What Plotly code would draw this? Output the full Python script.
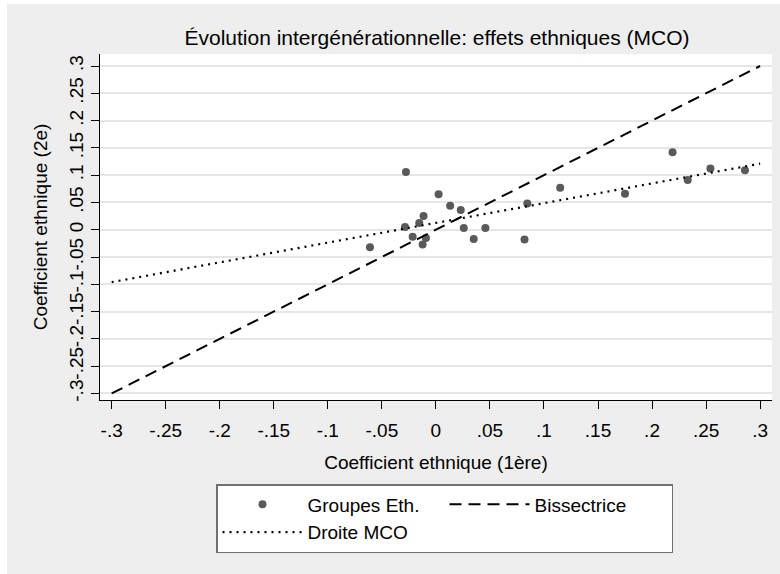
import plotly.graph_objects as go

# Data
grp_x = [-0.0277, 0.0025, 0.0132, 0.023, -0.0114, -0.0286, -0.0154, 0.0258, 0.0458,
         -0.0215, -0.0092, -0.0123, 0.035, 0.082, 0.0846, 0.115, -0.061, 0.175,
         0.219, 0.233, 0.254, 0.286]
grp_y = [0.106, 0.065, 0.044, 0.036, 0.025, 0.005, 0.0125, 0.003, 0.003,
         -0.013, -0.015, -0.027, -0.017, -0.018, 0.048, 0.077, -0.032, 0.066,
         0.142, 0.091, 0.112, 0.109]
bis_x = [-0.3, 0.3]
bis_y = [-0.3, 0.3]
ols_x = [-0.3, 0.3]
ols_y = [-0.096, 0.121]

tick_vals = [-0.3, -0.25, -0.2, -0.15, -0.1, -0.05, 0, 0.05, 0.1, 0.15, 0.2, 0.25, 0.3]
tick_text = ["-.3", "-.25", "-.2", "-.15", "-.1", "-.05", "0", ".05", ".1", ".15", ".2", ".25", ".3"]

W, H = 780, 574
ML, MR, MT, MB = 100, 8, 54, 174
pw, ph = W - ML - MR, H - MT - MB

font = "Liberation Sans, Arial, sans-serif"
FS = 19

fig = go.Figure()
fig.add_trace(go.Scatter(x=grp_x, y=grp_y, mode="markers", name="Groupes Eth.",
                         marker=dict(size=8, color="#5a5a5a"), cliponaxis=False))
fig.add_trace(go.Scatter(x=bis_x, y=bis_y, mode="lines", name="Bissectrice",
                         line=dict(color="black", width=2, dash="12px,7px")))
fig.add_trace(go.Scatter(x=ols_x, y=ols_y, mode="lines", name="Droite MCO",
                         line=dict(color="black", width=2.2, dash="2px,5px")))

def px_x(p):
    return (p - ML) / pw

def px_y(p):
    return 1 - (p - MT) / ph

fig.update_layout(
    width=W, height=H,
    margin=dict(l=ML, r=MR, t=MT, b=MB, pad=0),
    paper_bgcolor="#eeeeee",
    plot_bgcolor="white",
    font=dict(family=font, size=FS, color="black"),
    title=dict(text="Évolution intergénérationnelle: effets ethniques (MCO)",
               xref="container", x=437 / W, xanchor="center",
               yref="container", y=1 - 38 / H, yanchor="middle",
               font=dict(size=21, color="black")),
    xaxis=dict(range=[-0.3108, 0.311], tickvals=tick_vals, ticktext=tick_text,
               showgrid=False, zeroline=False, showline=True, linecolor="black",
               linewidth=1, ticks="outside", ticklen=8, tickcolor="black",
               ticklabelstandoff=5, tickfont=dict(size=FS),
               title=dict(text="Coefficient ethnique (1ère)", standoff=15,
                          font=dict(size=FS))),
    yaxis=dict(range=[-0.312, 0.322], tickvals=tick_vals, ticktext=tick_text,
               showgrid=True, gridcolor="#e6e6e6", gridwidth=1.5,
               zeroline=False, showline=True, linecolor="black", linewidth=1,
               ticks="outside", ticklen=8, tickcolor="black", tickangle=-90,
               tickfont=dict(size=FS),
               title=dict(text="Coefficient ethnique (2e)", standoff=13,
                          font=dict(size=FS))),
    legend=dict(orientation="h", x=px_x(216), xanchor="left",
                y=px_y(484), yanchor="top", bgcolor="white",
                bordercolor="#707070", borderwidth=1.5,
                entrywidth=132, itemwidth=80,
                font=dict(size=FS, color="black"), tracegroupgap=0),
    showlegend=True,
)

# thin white strips at the left and top edges of the page
fig.add_shape(type="rect", xref="paper", yref="paper",
              x0=px_x(0), x1=px_x(7), y0=px_y(H), y1=px_y(0),
              fillcolor="white", line=dict(width=0), layer="below")
fig.add_shape(type="rect", xref="paper", yref="paper",
              x0=px_x(0), x1=px_x(W), y0=px_y(4), y1=px_y(0),
              fillcolor="white", line=dict(width=0), layer="below")

fig.write_html("out.html")
